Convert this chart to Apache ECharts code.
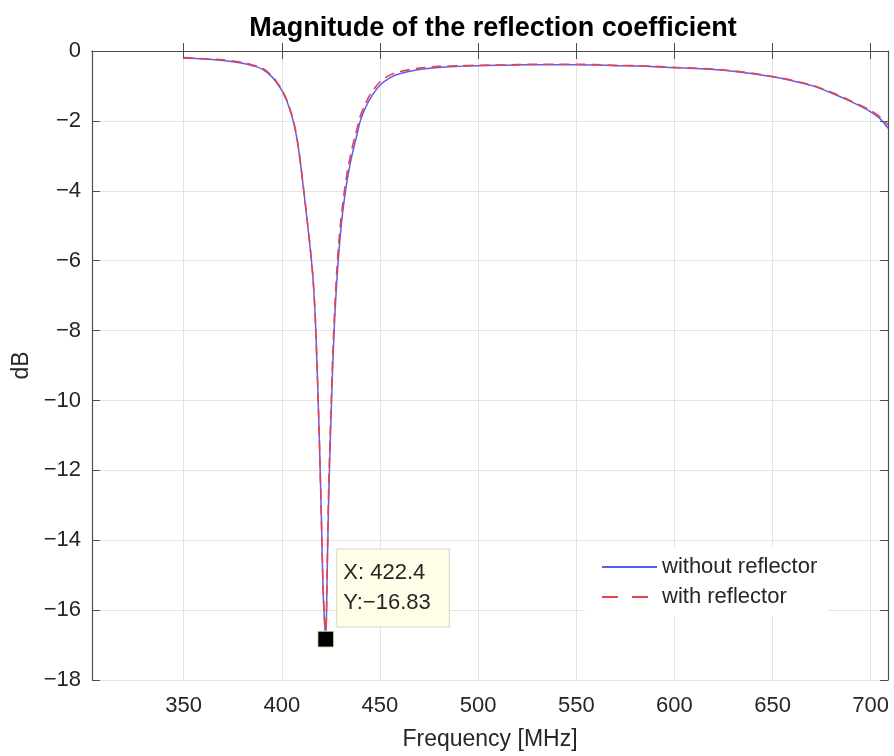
<!DOCTYPE html>
<html>
<head>
<meta charset="utf-8">
<script src="https://cdn.jsdelivr.net/npm/echarts@6/dist/echarts.min.js"></script>
<style>
  html, body { margin: 0; padding: 0; background: #fff; }
  #chart { width: 894px; height: 756px; }
</style>
</head>
<body>
<div id="chart"></div>
<script>
// frequency samples (MHz)
var freq = [350, 360, 370, 380, 385, 390, 395, 398, 400, 401, 402, 403, 404, 405, 406, 407, 408, 409, 410, 411,
  412, 413, 414, 415, 416, 417, 418, 419, 420, 421, 422, 422.4, 423, 423.5, 424, 425, 426, 427, 428, 429,
  430, 431, 432, 433, 434, 435, 436, 437, 438, 440, 442, 445, 450, 455, 460, 470, 480, 490, 500, 510,
  520, 530, 540, 550, 560, 570, 580, 590, 600, 610, 620, 630, 640, 650, 660, 670, 680, 690, 700, 705, 708.8];

// |S11| in dB, without reflector
var withoutRefl = [-0.20, -0.23, -0.27, -0.35, -0.42, -0.52, -0.74, -0.96, -1.13, -1.24, -1.36, -1.50, -1.66, -1.84, -2.05, -2.30, -2.62, -3.00, -3.45, -3.92,
  -4.40, -4.90, -5.40, -5.95, -6.60, -7.60, -9.10, -10.90, -13.00, -15.40, -16.60, -16.83, -15.30, -13.80, -12.50, -10.60, -8.90, -7.60, -6.60, -5.80,
  -5.15, -4.62, -4.18, -3.80, -3.47, -3.18, -2.92, -2.68, -2.46, -2.00, -1.70, -1.36, -0.98, -0.77, -0.65, -0.53, -0.47, -0.44, -0.42, -0.41,
  -0.40, -0.39, -0.39, -0.39, -0.40, -0.42, -0.43, -0.45, -0.48, -0.50, -0.53, -0.58, -0.65, -0.74, -0.85, -0.99, -1.20, -1.45, -1.74, -1.95, -2.21];

// |S11| in dB, with reflector
var withRefl = [-0.19, -0.22, -0.25, -0.33, -0.40, -0.49, -0.71, -0.93, -1.10, -1.21, -1.33, -1.47, -1.63, -1.81, -2.02, -2.27, -2.59, -2.97, -3.42, -3.90,
  -4.38, -4.88, -5.38, -5.93, -6.58, -7.58, -9.10, -10.90, -13.00, -15.30, -16.55, -16.80, -15.10, -13.50, -12.20, -10.30, -8.60, -7.30, -6.30, -5.50,
  -4.88, -4.38, -3.95, -3.58, -3.26, -2.98, -2.73, -2.50, -2.29, -1.86, -1.58, -1.25, -0.88, -0.69, -0.59, -0.49, -0.44, -0.42, -0.41, -0.40,
  -0.39, -0.38, -0.38, -0.38, -0.39, -0.41, -0.42, -0.44, -0.47, -0.49, -0.52, -0.57, -0.64, -0.73, -0.84, -0.98, -1.18, -1.43, -1.70, -1.90, -2.12];

var xTicks = [350, 400, 450, 500, 550, 600, 650, 700];
var seriesNames = ['without reflector', 'with reflector'];

// data tip
var tipX = 422.4;
var tipY = -16.83;

var xMin = 303.3, xMax = 708.8;
var yMin = -18, yMax = 0, yStep = 2;

var FONT = '"Liberation Sans", Arial, sans-serif';
var AXIS_COLOR = '#4d4d4d';
var TEXT_COLOR = '#262626';
var BLUE = '#5d5df2';
var RED = '#e8434b';

function minus(v) {
  return String(v).replace('-', '\u2212');
}

var chart = echarts.init(document.getElementById('chart'), null, { renderer: 'canvas' });

function pairs(ys) {
  return freq.map(function (f, i) { return [f, ys[i]]; });
}

var option = {
  backgroundColor: '#fff',
  animation: false,
  title: {
    text: 'Magnitude of the reflection coefficient',
    left: 488,
    top: 10,
    textAlign: 'center',
    textStyle: { fontFamily: FONT, fontSize: 27, fontWeight: 'bold', color: '#000' }
  },
  grid: { left: 92, right: 6, top: 51, bottom: 74, containLabel: false },
  legend: {
    orient: 'vertical',
    left: 585,
    top: 547,
    padding: [9, 10, 8, 16],
    backgroundColor: '#fff',
    itemWidth: 55,
    itemHeight: 14,
    itemGap: 8,
    itemStyle: { color: 'rgba(0,0,0,0)', borderWidth: 0, opacity: 0 },
    textStyle: { fontFamily: FONT, fontSize: 22, color: TEXT_COLOR },
    data: [
      { name: seriesNames[0] },
      { name: seriesNames[1], lineStyle: { type: [16, 14] } }
    ]
  },
  xAxis: [{
    type: 'value',
    min: xMin,
    max: xMax,
    name: 'Frequency [MHz]',
    nameLocation: 'middle',
    nameGap: 48,
    nameTextStyle: { fontFamily: FONT, fontSize: 23, color: TEXT_COLOR },
    axisLine: { show: true, lineStyle: { color: AXIS_COLOR, width: 1.2 } },
    axisTick: { show: true, inside: true, length: 8, customValues: xTicks, lineStyle: { color: AXIS_COLOR } },
    axisLabel: { customValues: xTicks, margin: 15, fontFamily: FONT, fontSize: 22, color: TEXT_COLOR },
    splitLine: { show: true, lineStyle: { color: '#e3e3e3', width: 1 } }
  }, {
    type: 'value',
    position: 'top',
    min: xMin,
    max: xMax,
    axisLine: { show: true, lineStyle: { color: AXIS_COLOR, width: 1.2 } },
    axisTick: { show: true, inside: true, length: 8, customValues: xTicks, lineStyle: { color: AXIS_COLOR } },
    axisLabel: { show: false },
    splitLine: { show: false }
  }],
  yAxis: [{
    type: 'value',
    min: yMin,
    max: yMax,
    interval: yStep,
    name: 'dB',
    nameLocation: 'middle',
    nameGap: 54,
    nameTextStyle: { fontFamily: FONT, fontSize: 23, color: TEXT_COLOR },
    axisLine: { show: true, lineStyle: { color: AXIS_COLOR, width: 1.2 } },
    axisTick: { show: true, inside: true, length: 8, lineStyle: { color: AXIS_COLOR } },
    axisLabel: { margin: 11, fontFamily: FONT, fontSize: 22, color: TEXT_COLOR, formatter: minus },
    splitLine: { show: true, lineStyle: { color: '#e3e3e3', width: 1 } }
  }, {
    type: 'value',
    position: 'right',
    min: yMin,
    max: yMax,
    interval: yStep,
    axisLine: { show: true, lineStyle: { color: AXIS_COLOR, width: 1.2 } },
    axisTick: { show: true, inside: true, length: 8, lineStyle: { color: AXIS_COLOR } },
    axisLabel: { show: false },
    splitLine: { show: false }
  }],
  series: [{
    name: seriesNames[0],
    type: 'line',
    data: pairs(withoutRefl),
    showSymbol: false,
    symbol: 'none',
    smooth: 0.3,
    lineStyle: { color: BLUE, width: 1.5 },
    itemStyle: { color: BLUE },
    z: 2
  }, {
    name: seriesNames[1],
    type: 'line',
    data: pairs(withRefl),
    showSymbol: false,
    symbol: 'none',
    smooth: 0.3,
    lineStyle: { color: RED, width: 1.6, type: [10, 6] },
    itemStyle: { color: RED },
    z: 3
  }, {
    name: 'datatip',
    type: 'scatter',
    data: [[tipX, tipY]],
    symbol: 'rect',
    symbolSize: 16,
    itemStyle: { color: '#000', opacity: 1, borderColor: '#f5f5c8', borderWidth: 1 },
    emphasis: { disabled: true },
    z: 5,
    label: {
      show: true,
      position: [20, -81],
      align: 'left',
      verticalAlign: 'top',
      formatter: function () { return 'X: ' + tipX + '\nY:' + minus(tipY); },
      fontFamily: FONT,
      fontSize: 22,
      lineHeight: 30,
      color: TEXT_COLOR,
      opacity: 1,
      backgroundColor: '#ffffe9',
      borderColor: '#d6d6c2',
      borderWidth: 1,
      padding: [8, 18, 9, 6]
    }
  }]
};

chart.setOption(option);
</script>
</body>
</html>
